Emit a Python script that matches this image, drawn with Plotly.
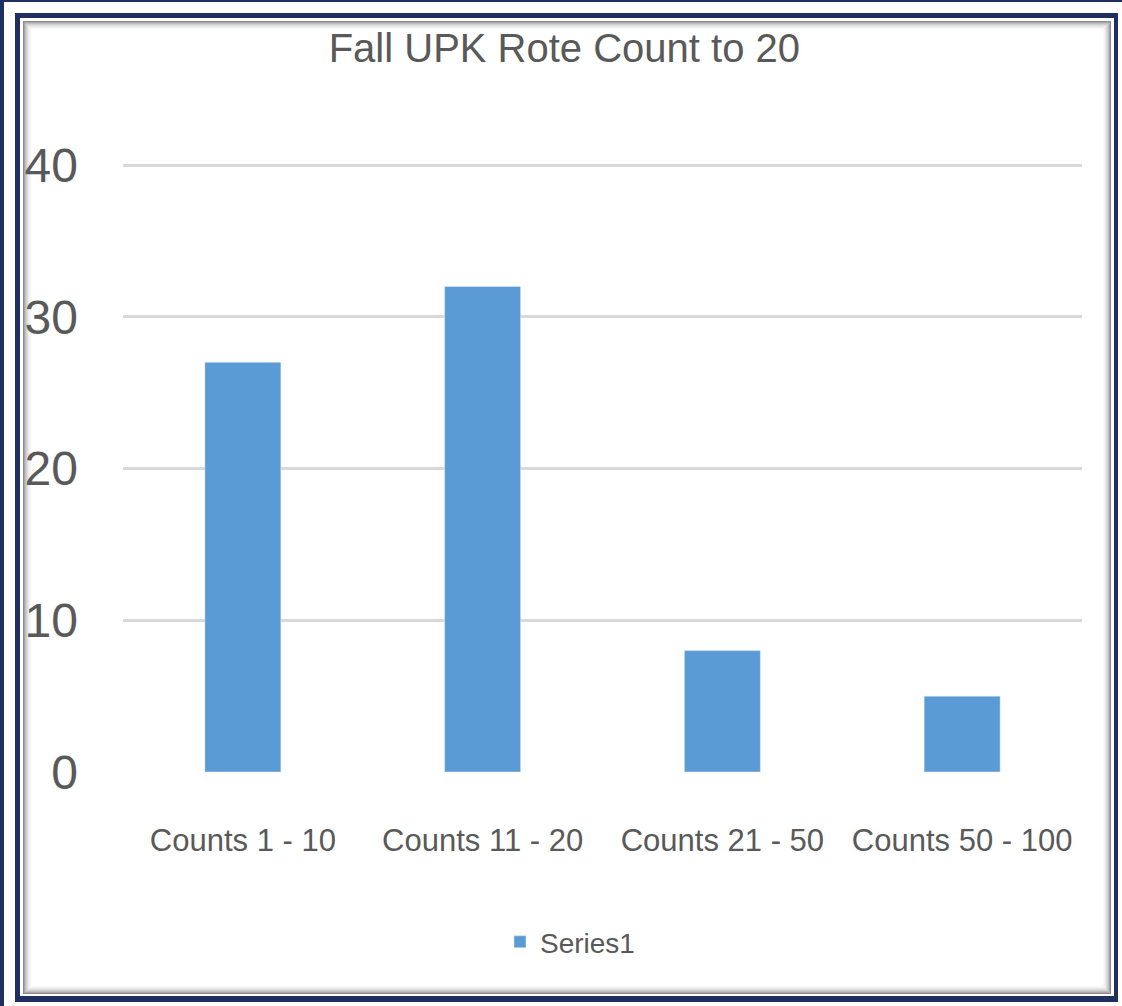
import plotly.graph_objects as go

categories = ["Counts 1 - 10", "Counts 11 - 20", "Counts 21 - 50", "Counts 50 - 100"]
values = [27, 32, 8, 5]
series_name = "Series1"
title_text = "Fall UPK Rote Count to 20"
y_ticks = [0, 10, 20, 30, 40]

W, H = 1122, 1006
L, R, T, B = 123, 40, 162, 234
PW, PH = W - L - R, H - T - B

def px(x):
    return (x - L) / PW

def py(y):
    return (H - B - y) / PH

FONT = "Liberation Sans, Arial, sans-serif"
TXT = "#595959"

fig = go.Figure()
fig.add_trace(go.Bar(x=categories, y=values, name=series_name, marker_color="#5B9BD5",
                     showlegend=True))

shapes = []
def rect(x0, y0, x1, y1, color):
    shapes.append(dict(type="rect", xref="paper", yref="paper", layer="below",
                       x0=px(x0), x1=px(x1), y0=py(y1), y1=py(y0),
                       fillcolor=color, line=dict(width=0)))

rect(-10, -10, 1200, 1200, "#1F3060")
rect(4, 2, 1200, 1200, "#FFFFFF")
rect(15, 13, 1118, 1002, "#1F3060")
rect(20, 18, 1114, 996, "#FFFFFF")
shade = ["#8C8C8C", "#A8A8A8", "#BEBEBE", "#D0D0D0", "#DEDEDE", "#E9E9E9", "#F2F2F2", "#F8F8F8", "#FFFFFF"]
for i, c in enumerate(shade):
    rect(23 + i, 21 + i, 1111 - i, 994 - i, c)

fig.update_layout(
    width=W, height=H,
    margin=dict(l=L, r=R, t=T, b=B, autoexpand=False),
    paper_bgcolor="#FFFFFF",
    plot_bgcolor="rgba(0,0,0,0)",
    shapes=shapes,
    bargap=0.683,
    title=dict(text=title_text, x=0.503, xref="container", xanchor="center",
               y=1 - 48 / H, yref="container", yanchor="middle",
               font=dict(family=FONT, size=40, color=TXT)),
    font=dict(family=FONT, color=TXT),
    showlegend=True,
    legend=dict(orientation="h", xref="container", x=0.508, xanchor="center",
                yref="container", y=1 - 942 / H, yanchor="middle",
                font=dict(family=FONT, size=28, color=TXT),
                bgcolor="rgba(0,0,0,0)"),
    xaxis=dict(showgrid=False, showline=False, zeroline=False, tickangle=0,
               ticks="", ticklabelstandoff=47, automargin=False,
               tickfont=dict(family=FONT, size=31, color=TXT)),
    yaxis=dict(range=[0, 40.2], tickvals=y_ticks, showgrid=True, gridcolor="#D9D9D9",
               gridwidth=3, zeroline=False, showline=False, ticks="",
               ticklabelstandoff=44, automargin=False,
               tickfont=dict(family=FONT, size=48, color=TXT)),
)

fig.write_html("out.html", config={"displayModeBar": False},
               post_script="document.body.style.margin='0';document.body.style.padding='0';")
